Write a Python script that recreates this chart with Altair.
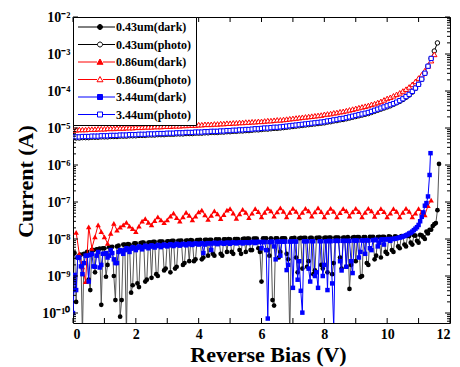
import altair as alt
import pandas as pd

# Bias grid of the measurement sweep (V), 0.1 V steps, plus the in-between points
GRID = [round(i * 0.1, 1) for i in range(117)]
MID = [round(i * 0.1 + 0.05, 2) for i in range(116)]

NAMES = ["0.43um(dark)", "0.43um(photo)", "0.86um(dark)", "0.86um(photo)", "3.44um(dark)", "3.44um(photo)"]

# log10(current) values
dark043 = [
    -8.40, -9.70, -8.45, -10.6, -8.40, -9.10, -8.30, -8.90, -8.28, -9.78,
    -8.25, -8.70, -8.22, -9.00, -8.20, -10.10, -8.15, -10.6, -8.15, -9.25,
    -8.12, -9.30, -8.10, -9.15, -8.10, -9.05, -8.08, -9.00, -8.07, -8.85,
    -8.06, -8.90, -8.05, -8.75, -8.05, -8.70, -8.04, -8.60, -8.04, -8.55,
    -8.03, -8.55, -8.02, -8.45, -8.02, -8.45, -8.02, -8.40, -8.01, -8.35,
    -8.01, -8.40, -8.00, -8.30, -8.00, -8.35, -7.99, -8.30, -7.99, -8.25,
    -9.15, -7.99, -8.30, -7.98, -9.80, -7.98, -8.35, -7.98, -8.40, -10.6,
    -7.98, -8.50, -7.98, -8.80, -7.97, -8.60, -7.97, -8.85, -7.97, -8.70,
    -7.97, -8.90, -7.96, -8.65, -7.96, -8.50, -7.96, -8.75, -9.35, -7.96,
    -8.60, -7.95, -9.00, -7.95, -8.70, -7.95, -8.55, -7.95, -8.50, -7.94,
    -8.40, -7.94, -8.35, -7.94, -8.25, -7.93, -8.20, -7.92, -8.15, -7.91,
    -8.10, -7.90, -8.00, -7.85, -7.75, -7.60, -7.22,
]
dark043_mid = [
    -8.38, -8.50, -8.42, -8.40, -8.35, -9.38, -8.30, -8.28, -8.26, -8.25,
    -9.02, -8.22, -8.21, -9.65, -8.18, -9.65, -8.15, -8.14, -9.45, -8.12,
    -9.20, -8.11, -8.10, -9.10, -8.09, -8.08, -8.95, -8.07, -8.07, -8.80,
    -8.06, -8.05, -8.80, -8.05, -8.04, -8.65, -8.04, -8.03, -8.60, -8.03,
    -8.02, -8.50, -8.02, -8.02, -8.40, -8.01, -8.01, -8.45, -8.01, -8.00,
    -8.35, -8.00, -8.00, -8.40, -7.99, -7.99, -8.30, -7.99, -7.99, -8.35,
    -7.98, -7.98, -8.45, -9.65, -7.98, -8.50, -7.98, -7.98, -8.55, -7.98,
    -7.97, -8.90, -7.97, -7.97, -8.75, -7.97, -8.95, -7.97, -7.96, -8.80,
    -7.96, -7.96, -8.95, -7.96, -7.96, -8.80, -7.96, -7.95, -8.70, -7.95,
    -7.95, -9.03, -7.95, -8.65, -7.94, -7.94, -8.45, -7.94, -7.94, -8.35,
    -7.93, -8.30, -7.93, -8.20, -7.92, -8.15, -7.91, -8.10, -7.90, -8.05,
    -7.89, -7.95, -7.80, -7.75, -7.65, -7.57,
]
dark043_tail_v = [11.65]
dark043_tail = [-5.97]

photo043 = [
    -5.27, -5.27, -5.27, -5.26, -5.26, -5.26, -5.25, -5.25, -5.25, -5.24,
    -5.24, -5.24, -5.23, -5.23, -5.23, -5.22, -5.22, -5.22, -5.21, -5.21,
    -5.21, -5.20, -5.20, -5.20, -5.19, -5.19, -5.19, -5.18, -5.18, -5.18,
    -5.17, -5.17, -5.17, -5.16, -5.16, -5.16, -5.15, -5.15, -5.15, -5.14,
    -5.14, -5.14, -5.13, -5.13, -5.12, -5.12, -5.12, -5.11, -5.11, -5.10,
    -5.10, -5.09, -5.09, -5.08, -5.08, -5.07, -5.07, -5.06, -5.05, -5.05,
    -5.04, -5.03, -5.03, -5.02, -5.01, -5.01, -5.00, -4.99, -4.98, -4.97,
    -4.96, -4.95, -4.94, -4.93, -4.92, -4.91, -4.90, -4.89, -4.88, -4.87,
    -4.86, -4.84, -4.83, -4.81, -4.80, -4.78, -4.77, -4.75, -4.73, -4.71,
    -4.69, -4.67, -4.65, -4.63, -4.61, -4.58, -4.55, -4.52, -4.49, -4.46,
    -4.43, -4.40, -4.36, -4.32, -4.28, -4.23, -4.17, -4.11, -4.03, -3.93,
    -3.82, -3.68, -3.52, -3.33, -3.12, -2.92, -2.70,
]

# starts at 0.1 V
dark086 = [
    -7.82, -8.40, -8.75, -9.15, -7.67, -8.25, -7.94, -7.62, -7.80,
    -7.94, -8.12, -7.85, -7.58, -7.76, -7.68, -7.62, -7.55, -7.65, -7.72,
    -7.80, -7.65, -7.52, -7.45, -7.55, -7.62, -7.50, -7.40, -7.48, -7.56,
    -7.48, -7.38, -7.30, -7.42, -7.52, -7.40, -7.28, -7.36, -7.48, -7.38,
    -7.27, -7.22, -7.35, -7.47, -7.36, -7.24, -7.32, -7.45, -7.34, -7.22,
    -7.18, -7.30, -7.44, -7.32, -7.20, -7.28, -7.42, -7.30, -7.18, -7.26,
    -7.40, -7.28, -7.17, -7.24, -7.38, -7.27, -7.16, -7.25, -7.40, -7.28,
    -7.17, -7.25, -7.40, -7.28, -7.17, -7.24, -7.38, -7.27, -7.16, -7.26,
    -7.40, -7.28, -7.17, -7.25, -7.40, -7.29, -7.18, -7.24, -7.38, -7.27,
    -7.17, -7.26, -7.40, -7.28, -7.17, -7.24, -7.39, -7.28, -7.18, -7.26,
    -7.40, -7.30, -7.18, -7.25, -7.40, -7.28, -7.17, -7.25, -7.40, -7.30,
    -7.18, -7.28, -7.35, -7.10, -6.95,
]

photo086 = [
    -5.05, -5.05, -5.04, -5.04, -5.04, -5.03, -5.03, -5.03, -5.02, -5.02,
    -5.02, -5.01, -5.01, -5.01, -5.00, -5.00, -5.00, -4.99, -4.99, -4.99,
    -4.98, -4.98, -4.98, -4.97, -4.97, -4.97, -4.96, -4.96, -4.96, -4.95,
    -4.95, -4.95, -4.94, -4.94, -4.94, -4.93, -4.93, -4.92, -4.92, -4.92,
    -4.91, -4.91, -4.90, -4.90, -4.90, -4.89, -4.89, -4.88, -4.88, -4.87,
    -4.87, -4.86, -4.86, -4.85, -4.85, -4.84, -4.84, -4.83, -4.83, -4.82,
    -4.82, -4.81, -4.80, -4.80, -4.79, -4.78, -4.78, -4.77, -4.76, -4.75,
    -4.74, -4.73, -4.72, -4.71, -4.70, -4.69, -4.68, -4.67, -4.66, -4.65,
    -4.63, -4.62, -4.61, -4.59, -4.58, -4.56, -4.55, -4.53, -4.51, -4.49,
    -4.47, -4.45, -4.43, -4.41, -4.39, -4.36, -4.34, -4.31, -4.28, -4.24,
    -4.20, -4.17, -4.13, -4.09, -4.05, -4.00, -3.95, -3.89, -3.82, -3.74,
    -3.65, -3.56, -3.45, -3.32, -3.18, -3.01,
]

dark344 = [
    -10.00, -9.38, -8.50, -8.95, -8.45, -9.15, -8.40, -8.75, -8.35, -8.70,
    -8.40, -8.50, -8.30, -8.55, -8.65, -8.30, -8.40, -8.25, -8.35, -8.22,
    -8.30, -8.20, -8.28, -8.18, -8.25, -8.17, -8.23, -8.16, -8.22, -8.15,
    -8.20, -8.14, -8.19, -8.13, -8.18, -8.13, -8.17, -8.12, -8.16, -8.12,
    -8.15, -8.11, -8.15, -8.11, -8.30, -8.10, -8.14, -8.10, -8.13, -8.10,
    -8.13, -8.09, -8.12, -8.09, -8.12, -8.09, -8.11, -8.08, -8.11, -8.08,
    -8.25, -8.08, -10.15, -8.08, -8.20, -8.07, -8.45, -8.07, -8.84, -8.07,
    -9.32, -8.07, -8.60, -9.99, -8.06, -8.80, -8.06, -9.00, -9.32, -8.06,
    -8.70, -9.38, -8.06, -10.40, -8.05, -8.60, -8.05, -8.75, -8.05, -8.92,
    -8.05, -8.50, -8.04, -8.40, -8.04, -8.30, -8.03, -8.20, -8.02, -8.15,
    -8.01, -8.05, -8.00, -7.98, -7.96, -7.93, -7.90, -7.85, -7.80, -7.72,
    -7.62, -7.40, -7.10, -6.85,
]
dark344_mid = [
    -8.97, -8.50, -8.74, -8.65, -8.45, -8.43, -8.74, -8.45, -8.77, -8.40,
    -8.38, -8.45, -8.38, -8.65, -8.35, -8.32, -8.30, -8.28, -8.26, -8.25,
    -8.24, -8.22, -8.22, -8.21, -8.20, -8.20, -8.19, -8.18, -8.18, -8.17,
    -8.17, -8.16, -8.16, -8.15, -8.15, -8.14, -8.14, -8.14, -8.13, -8.13,
    -8.13, -8.38, -8.12, -8.12, -8.12, -8.11, -8.11, -8.11, -8.11, -8.10,
    -8.10, -8.10, -8.10, -8.09, -8.09, -8.09, -8.09, -8.08, -8.08, -8.08,
    -8.08, -8.30, -8.08, -8.07, -8.55, -8.07, -8.07, -8.07, -8.70, -8.07,
    -8.06, -9.10, -9.40, -8.06, -8.06, -9.15, -8.06, -8.90, -8.06, -9.00,
    -8.06, -8.05, -9.20, -8.05, -8.05, -8.85, -8.05, -8.05, -8.60, -8.04,
    -8.04, -8.35, -8.04, -8.03, -8.25, -8.03, -8.02, -8.10, -8.01, -8.01,
    -8.00, -8.00, -7.99, -7.97, -7.95, -7.92, -7.88, -7.83, -7.76, -7.68,
    -7.52, -7.28, -7.03,
]
dark344_tail_v = [11.35, 11.38]
dark344_tail = [-6.27, -5.68]

photo344 = [
    -5.24, -5.24, -5.24, -5.23, -5.23, -5.23, -5.22, -5.22, -5.22, -5.21,
    -5.21, -5.21, -5.20, -5.20, -5.20, -5.19, -5.19, -5.19, -5.18, -5.18,
    -5.18, -5.17, -5.17, -5.17, -5.16, -5.16, -5.16, -5.15, -5.15, -5.15,
    -5.14, -5.14, -5.14, -5.13, -5.13, -5.13, -5.12, -5.12, -5.12, -5.11,
    -5.11, -5.11, -5.10, -5.10, -5.09, -5.09, -5.09, -5.08, -5.08, -5.07,
    -5.07, -5.06, -5.06, -5.05, -5.05, -5.04, -5.04, -5.03, -5.02, -5.02,
    -5.01, -5.00, -5.00, -4.99, -4.98, -4.98, -4.97, -4.96, -4.95, -4.94,
    -4.93, -4.92, -4.91, -4.90, -4.89, -4.88, -4.87, -4.86, -4.85, -4.84,
    -4.83, -4.81, -4.80, -4.78, -4.77, -4.75, -4.74, -4.72, -4.70, -4.68,
    -4.66, -4.64, -4.62, -4.60, -4.58, -4.55, -4.52, -4.49, -4.46, -4.43,
    -4.40, -4.37, -4.34, -4.30, -4.26, -4.21, -4.15, -4.09, -4.01, -3.92,
    -3.82, -3.68, -3.52, -3.33, -3.12,
]

X_LABELS = [0, 2, 4, 6, 8, 10, 12]
Y_LABELS = [1e-10, 1e-9, 1e-8, 1e-7, 1e-6, 1e-5, 1e-4, 1e-3, 1e-2]
Y_MIN = 10 ** -10.27
Y_MAX = 1e-2

rows = []
def add(name, xs, ls):
    for x, l in zip(xs, ls):
        rows.append({"V": x, "I": 10 ** l, "s": name})

add(NAMES[0], GRID[:len(dark043)] + MID[:len(dark043_mid)] + dark043_tail_v,
    dark043 + dark043_mid + dark043_tail)
add(NAMES[1], GRID[:len(photo043)], photo043)
add(NAMES[2], GRID[1:1 + len(dark086)], dark086)
add(NAMES[3], GRID[:len(photo086)], photo086)
add(NAMES[4], GRID[:len(dark344)] + MID[:len(dark344_mid)] + dark344_tail_v,
    dark344 + dark344_mid + dark344_tail)
add(NAMES[5], GRID[:len(photo344)], photo344)
df = pd.DataFrame(rows).sort_values(["s", "V"]).reset_index(drop=True)

FONT = "Liberation Serif"
W, H = 377, 306

xscale = alt.Scale(domain=[0, 12], nice=False, zero=False)
yscale = alt.Scale(type="log", domain=[Y_MIN, Y_MAX], nice=False)

sup = "⁰¹²³⁴⁵⁶⁷⁸⁹"
e = "(-round(log(datum.value)/LN10))"
label_expr = (f"'10⁻' + ({e} >= 10 ? '¹⁰' : substring('{sup}', {e}, {e} + 1))")

xaxis = alt.Axis(values=X_LABELS, format="d", ticks=False, domain=False, grid=False,
                 labelFont=FONT, labelFontSize=14, labelFontWeight="bold", labelColor="black",
                 labelPadding=4, title="Reverse Bias (V)", titleFont=FONT, titleFontSize=22,
                 titleFontWeight="bold", titleColor="black", titlePadding=3, titleX=195)
yaxis = alt.Axis(values=Y_LABELS, labelExpr=label_expr, ticks=False, domain=False, grid=False,
                 labelFont=FONT, labelFontSize=14, labelFontWeight="bold", labelColor="black",
                 labelPadding=3, title="Current (A)", titleFont=FONT, titleFontSize=22,
                 titleFontWeight="bold", titleColor="black", titlePadding=4, titleY=164)

X = alt.X("V:Q", scale=xscale, axis=xaxis)
Y = alt.Y("I:Q", scale=yscale, axis=yaxis)

STYLE = {
    NAMES[0]: dict(color="black", line="#555555", shape="circle", size=22, open=False),
    NAMES[1]: dict(color="black", line="black", shape="circle", size=20, open=True),
    NAMES[2]: dict(color="#ff0000", line="#ff0000", shape="triangle-up", size=30, open=False),
    NAMES[3]: dict(color="#ff0000", line="#ff0000", shape="triangle-up", size=28, open=True),
    NAMES[4]: dict(color="#0000ff", line="#0000ff", shape="square", size=20, open=False),
    NAMES[5]: dict(color="#0000ff", line="#6666ff", shape="square", size=18, open=True),
}

layers = []
for name in NAMES:
    st = STYLE[name]
    base = alt.Chart(df).transform_filter(alt.datum.s == name)
    layers.append(base.mark_line(clip=True, color=st["line"], strokeWidth=1).encode(x=X, y=Y))
    if st["open"]:
        pts = base.mark_point(clip=True, shape=st["shape"], size=st["size"], opacity=1,
                              filled=True, fill="white", stroke=st["color"], strokeWidth=1)
    else:
        pts = base.mark_point(clip=True, shape=st["shape"], size=st["size"], opacity=1,
                              filled=True, color=st["color"])
    layers.append(pts.encode(x=X, y=Y))

# inward ticks
x_ticks = pd.DataFrame({"V": list(range(0, 13))})
y_major = pd.DataFrame({"I": Y_LABELS})
y_minor = pd.DataFrame({"I": [k * 10.0 ** p for p in range(-11, -2) for k in range(2, 10)
                              if Y_MIN <= k * 10.0 ** p <= Y_MAX]})
tick = dict(color="black", strokeWidth=1)
layers += [
    alt.Chart(x_ticks).mark_rule(**tick).encode(x=X, y=alt.value(H), y2=alt.value(H - 5)),
    alt.Chart(x_ticks).mark_rule(**tick).encode(x=X, y=alt.value(0), y2=alt.value(5)),
    alt.Chart(y_major).mark_rule(**tick).encode(y=Y, x=alt.value(0), x2=alt.value(5)),
    alt.Chart(y_major).mark_rule(**tick).encode(y=Y, x=alt.value(W), x2=alt.value(W - 5)),
    alt.Chart(y_minor).mark_rule(**tick).encode(y=Y, x=alt.value(0), x2=alt.value(3)),
    alt.Chart(y_minor).mark_rule(**tick).encode(y=Y, x=alt.value(W), x2=alt.value(W - 3)),
]

# legend: line + marker symbols as custom paths
c = 3.4
def circ(r):
    return (f"M{c - r},0A{r},{r},0,1,1,{c + r},0A{r},{r},0,1,1,{c - r},0Z")
def line_around(r):
    return f"M-1,0L{c - r},0M{c + r},0L6.4,0"
tri = f"M{c},-0.6L{c + 0.6},0.45L{c - 0.6},0.45Z"
sq = f"M{c - 0.5},-0.5L{c + 0.5},-0.5L{c + 0.5},0.5L{c - 0.5},0.5Z"
PATHS = [
    line_around(0.5) + circ(0.5),
    line_around(0.5) + circ(0.5),
    line_around(0.6) + tri,
    line_around(0.6) + tri,
    line_around(0.5) + sq,
    line_around(0.5) + sq,
]
STROKES = ["black", "black", "#ff0000", "#ff0000", "#0000ff", "#0000ff"]
FILLS = ["black", "white", "#ff0000", "white", "#0000ff", "white"]

LEG = alt.Legend(title=None, orient="top-left", offset=0, padding=4, strokeColor="black",
                 fillColor="white", labelFont=FONT, labelFontSize=12, labelFontWeight="bold",
                 labelColor="black", labelOffset=27, rowPadding=5.5, symbolSize=100,
                 symbolStrokeWidth=1)
leg_layer = alt.Chart(pd.DataFrame({"s": NAMES})).mark_point(
    clip=True, size=100, opacity=1, strokeWidth=1, filled=True
).encode(
    x=alt.value(-100), y=alt.value(-100),
    shape=alt.Shape("s:N", scale=alt.Scale(domain=NAMES, range=PATHS), legend=LEG),
    stroke=alt.Stroke("s:N", scale=alt.Scale(domain=NAMES, range=STROKES), legend=LEG),
    fill=alt.Fill("s:N", scale=alt.Scale(domain=NAMES, range=FILLS), legend=LEG),
)
layers.append(leg_layer)

chart = alt.layer(*layers).properties(
    width=W, height=H,
    autosize=alt.AutoSizeParams(type="none"),
    padding={"left": 65, "top": 9, "right": 2, "bottom": 44},
).configure(font=FONT).configure_view(stroke="black", strokeWidth=1)

chart.save("out.html", embed_options={"renderer": "svg", "actions": False})
